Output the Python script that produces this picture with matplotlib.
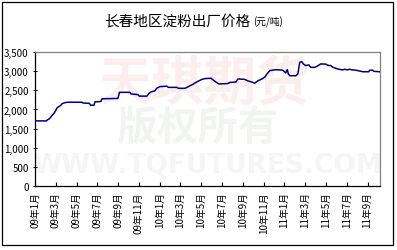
import matplotlib
matplotlib.use("Agg")
import matplotlib.pyplot as plt
from matplotlib.patches import Rectangle
from matplotlib.ticker import FuncFormatter

plt.rcParams['font.family'] = ['Noto Sans CJK SC', 'DejaVu Sans']

# ==========================
# Data (months since 2009-01, price in 元/吨)
# ==========================

months = [0.00, 1.11, 1.20, 1.35, 1.44, 1.63, 1.83, 1.97, 2.12, 2.31, 2.45, 2.60,
          2.88, 3.17, 4.52, 4.62, 5.24, 5.34, 5.67, 5.77, 6.35, 6.44, 7.98, 8.13,
          9.13, 9.23, 9.90, 10.05, 10.77, 10.96, 11.15, 11.54, 11.73, 12.02, 12.69,
          12.84, 13.65, 13.80, 14.42, 14.62, 14.90, 15.19, 15.48, 15.77, 16.06,
          16.35, 16.92, 17.12, 17.40, 17.69, 18.56, 18.75, 19.33, 19.52, 20.19,
          20.48, 20.87, 21.15, 21.44, 21.83, 22.12, 22.31, 22.60, 23.17, 23.85,
          24.13, 24.28, 24.38, 24.52, 25.10, 25.29, 25.48, 25.67, 25.82, 26.06,
          26.35, 26.54, 26.92, 27.12, 27.50, 27.98, 28.17, 28.46, 28.65, 29.04,
          29.33, 29.62, 29.81, 30.00, 30.29, 30.48, 30.77, 31.06, 31.54, 32.12,
          32.21, 32.50, 32.60, 33.17]

prices = [1700, 1700, 1730, 1750, 1775, 1840, 1900, 1960, 2040, 2080, 2100, 2150,
          2180, 2190, 2190, 2170, 2160, 2110, 2110, 2200, 2210, 2280, 2290, 2450,
          2450, 2410, 2390, 2350, 2350, 2420, 2460, 2490, 2560, 2600, 2610,
          2580, 2580, 2555, 2555, 2580, 2620, 2660, 2710, 2750, 2790,
          2810, 2820, 2780, 2720, 2670, 2680, 2710, 2720, 2800, 2790,
          2750, 2720, 2690, 2750, 2800, 2850, 2930, 3020, 3045, 3030,
          2960, 3045, 2930, 2885, 2885, 2930, 3240, 3255, 3195, 3150,
          3170, 3105, 3105, 3130, 3195, 3190, 3160, 3150, 3110, 3070,
          3050, 3040, 3055, 3040, 3055, 3040, 3035, 3020, 2990, 2990,
          3030, 3030, 3000, 2990]

tick_pos = list(range(0, 33, 2))
tick_labels = ["09年1月", "09年3月", "09年5月", "09年7月", "09年9月", "09年11月",
               "10年1月", "10年3月", "10年5月", "10年7月", "10年9月", "10年11月",
               "11年1月", "11年3月", "11年5月", "11年7月", "11年9月"]

# ==========================
# Plot
# ==========================

fig = plt.figure(figsize=(3.97, 2.51), dpi=100)
fig.patch.set_facecolor('white')
fig.patches.append(Rectangle((2 / 397, 5 / 251), 391 / 397, 243 / 251,
                             transform=fig.transFigure, fill=False,
                             edgecolor='black', linewidth=0.9))

ax = fig.add_axes([35 / 397, 64.3 / 251, 345 / 397, 133.4 / 251])

# watermark
ax.text(0.49, 0.77, "天琪期货", transform=ax.transAxes, ha='center', va='center',
        fontsize=38, color='#fdeeee', fontweight='bold', zorder=0)
ax.text(0.47, 0.44, "版权所有", transform=ax.transAxes, ha='center', va='center',
        fontsize=29, color='#f2f4f1', fontweight='bold', zorder=0)
ax.text(0.5, 0.16, "WWW.TQFUTURES.COM", transform=ax.transAxes, ha='center',
        va='center', fontsize=19, color='#f5f5f5', family='DejaVu Sans',
        fontweight='bold', zorder=0)

ax.plot(months, prices, color='#000080', linewidth=1.1, zorder=3)

ax.set_xlim(0, 33.2)
ax.set_ylim(0, 3500)
ax.set_yticks(range(0, 3501, 500))
ax.yaxis.set_major_formatter(FuncFormatter(lambda v, p: f"{int(v):,}"))
ax.set_xticks(tick_pos)
ax.set_xticklabels(tick_labels, rotation=90, fontsize=7)
ax.tick_params(axis='y', labelsize=7, direction='inout', length=3, width=0.8, pad=3)
ax.tick_params(axis='x', direction='in', length=3, width=0.8, pad=4)

for s in ['left', 'bottom']:
    ax.spines[s].set_color('black')
    ax.spines[s].set_linewidth(0.9)
for s in ['top', 'right']:
    ax.spines[s].set_color('#808080')
    ax.spines[s].set_linewidth(0.9)

fig.text(250 / 397, 0.915, "长春地区淀粉出厂价格", ha='right', va='center', fontsize=10.5)
fig.text(253 / 397, 0.912, "(元/吨)", ha='left', va='center', fontsize=7)

fig.savefig("out.png", dpi=100, facecolor='white')
